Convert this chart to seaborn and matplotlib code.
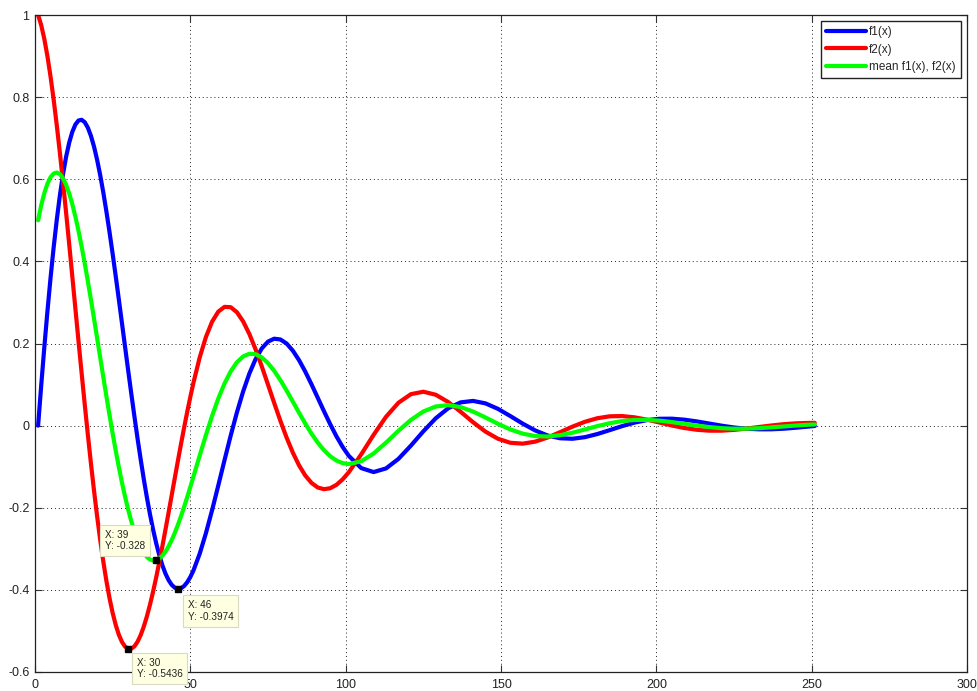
import matplotlib
matplotlib.use("Agg")
import matplotlib.pyplot as plt
import pandas as pd
import seaborn as sns

# Sample positions (x) and the three curves
x = [1, 2, 3, 4, 5, 6, 7, 8, 9, 10, 11, 12, 13, 14, 15, 16, 17, 18, 19, 20,
     21, 22, 23, 24, 25, 26, 27, 28, 29, 30, 31, 32, 33, 34, 35, 36, 37, 38,
     39, 40, 41, 42, 43, 44, 45, 46, 47, 48, 49, 50, 51,
     53, 55, 57, 59, 61, 63, 65, 67, 69, 71, 73, 75, 77, 79,
     81, 83, 85, 87, 89, 91, 93, 95, 97, 99, 101,
     105, 109, 113, 117, 121, 125, 129, 133, 137, 141, 145, 149, 153,
     157, 161, 165, 169, 173, 177, 181, 185, 189, 193, 197, 201, 205,
     209, 213, 217, 221, 225, 229, 233, 237, 241, 245, 249, 251]

f1 = [0.0, 0.0979, 0.1909, 0.2783, 0.3595, 0.4338, 0.5008, 0.5601, 0.6113, 0.6543,
      0.6889, 0.7152, 0.7332, 0.7430, 0.7448, 0.7390, 0.7258, 0.7058, 0.6794, 0.6471,
      0.6095, 0.5672, 0.5207, 0.4708, 0.4180, 0.3630, 0.3065, 0.2491, 0.1914, 0.1340,
      0.0775, 0.0224, -0.0308, -0.0815, -0.1295, -0.1742, -0.2154, -0.2528, -0.2862,
      -0.3153, -0.3401, -0.3604, -0.3763, -0.3877, -0.3947, -0.3974, -0.3960, -0.3906,
      -0.3814, -0.3687, -0.3528,
      -0.3123, -0.2624, -0.2060, -0.1457, -0.0842, -0.0240,
      0.0324, 0.0832, 0.1268, 0.1620, 0.1880, 0.2046, 0.2117, 0.2098,
      0.1998, 0.1825, 0.1593, 0.1315, 0.1006, 0.0681, 0.0354, 0.0038, -0.0256, -0.0516, -0.0736,
      -0.1034, -0.1131, -0.1042, -0.0809, -0.0487, -0.0139, 0.0179, 0.0423, 0.0566,
      0.0602, 0.0542, 0.0409, 0.0233,
      0.0048, -0.0117, -0.0240, -0.0308, -0.0320, -0.0281, -0.0205, -0.0110, -0.0012,
      0.0074, 0.0135, 0.0167, 0.0169,
      0.0145, 0.0103, 0.0051, -0.0001, -0.0045, -0.0076, -0.0090, -0.0089, -0.0075,
      -0.0051, -0.0023, -0.0009]

f2 = [1.0, 0.9753, 0.9416, 0.8997, 0.8503, 0.7941, 0.7320, 0.6649, 0.5937, 0.5192,
      0.4424, 0.3640, 0.2850, 0.2063, 0.1285, 0.0524, -0.0212, -0.0917, -0.1585, -0.2211,
      -0.2790, -0.3317, -0.3790, -0.4206, -0.4563, -0.4859, -0.5094, -0.5269, -0.5382, -0.5436,
      -0.5433, -0.5375, -0.5264, -0.5104, -0.4898, -0.4650, -0.4365, -0.4046, -0.3699,
      -0.3328, -0.2937, -0.2532, -0.2117, -0.1696, -0.1275, -0.0857, -0.0447, -0.0048,
      0.0335, 0.0700, 0.1044,
      0.1656, 0.2155, 0.2531, 0.2776, 0.2892, 0.2884,
      0.2761, 0.2538, 0.2231, 0.1859, 0.1441, 0.0998, 0.0550, 0.0114,
      -0.0294, -0.0658, -0.0968, -0.1215, -0.1395, -0.1506, -0.1548, -0.1525, -0.1444, -0.1311, -0.1136,
      -0.0701, -0.0224, 0.0216, 0.0558, 0.0766, 0.0826, 0.0752, 0.0575, 0.0337,
      0.0083, -0.0146, -0.0319, -0.0418,
      -0.0439, -0.0390, -0.0290, -0.0160, -0.0025, 0.0093, 0.0180, 0.0227, 0.0233,
      0.0202, 0.0145, 0.0075, 0.0003,
      -0.0058, -0.0101, -0.0123, -0.0123, -0.0104, -0.0072, -0.0034, 0.0003, 0.0035,
      0.0056, 0.0066, 0.0067]

f_mean = [0.5, 0.5366, 0.5663, 0.5890, 0.6049, 0.6139, 0.6164, 0.6125, 0.6025, 0.5868,
          0.5657, 0.5396, 0.5091, 0.4746, 0.4366, 0.3957, 0.3523, 0.3071, 0.2605, 0.2130,
          0.1653, 0.1177, 0.0708, 0.0251, -0.0192, -0.0615, -0.1015, -0.1389, -0.1734, -0.2048,
          -0.2329, -0.2576, -0.2786, -0.2960, -0.3096, -0.3196, -0.3260, -0.3287, -0.3280,
          -0.3240, -0.3169, -0.3068, -0.2940, -0.2787, -0.2611, -0.2416, -0.2204, -0.1977,
          -0.1740, -0.1494, -0.1242,
          -0.0733, -0.0235, 0.0235, 0.0660, 0.1025, 0.1322,
          0.1543, 0.1685, 0.1750, 0.1740, 0.1661, 0.1522, 0.1333, 0.1106,
          0.0852, 0.0584, 0.0313, 0.0050, -0.0195, -0.0412, -0.0597, -0.0744, -0.0850, -0.0913, -0.0936,
          -0.0868, -0.0678, -0.0413, -0.0125, 0.0139, 0.0344, 0.0466, 0.0499, 0.0452,
          0.0343, 0.0198, 0.0045, -0.0093,
          -0.0196, -0.0254, -0.0265, -0.0234, -0.0173, -0.0094, -0.0012, 0.0059, 0.0111,
          0.0138, 0.0140, 0.0121, 0.0086,
          0.0044, 0.0001, -0.0036, -0.0062, -0.0075, -0.0074, -0.0062, -0.0043, -0.0020,
          0.0003, 0.0022, 0.0029]

series_labels = ["f1(x)", "f2(x)", "mean f1(x), f2(x)"]

# Data cursors: mean, f1 and f2 minima
tip_x = [39, 46, 30]
tip_y = [-0.328, -0.3974, -0.5436]

x_ticks = [0, 50, 100, 150, 200, 250, 300]
y_ticks = [-0.6, -0.4, -0.2, 0, 0.2, 0.4, 0.6, 0.8, 1]
y_tick_labels = ["-0.6", "-0.4", "-0.2", "0", "0.2", "0.4", "0.6", "0.8", "1"]

sns.set_style("white")
plt.rcParams["font.family"] = ["Liberation Sans", "DejaVu Sans"]

fig = plt.figure(figsize=(9.77, 6.91), dpi=100)
fig.patch.set_facecolor("white")
ax = fig.add_axes([35 / 977, 1 - 672 / 691, 932 / 977, 657 / 691])

df = pd.DataFrame({
    "x": x * 3,
    "y": f1 + f2 + f_mean,
    "series": [lab for lab in series_labels for _ in x],
})
sns.lineplot(data=df, x="x", y="y", hue="series", hue_order=series_labels,
             palette=["#0000ff", "#ff0000", "#00ff00"], linewidth=3.0,
             errorbar=None, legend=False, ax=ax)

ax.set_xlim(0, 300)
ax.set_ylim(-0.6, 1)
ax.set_xticks(x_ticks)
ax.set_xticklabels([str(v) for v in x_ticks])
ax.set_yticks(y_ticks)
ax.set_yticklabels(y_tick_labels)
ax.set_xlabel("")
ax.set_ylabel("")

ax.grid(True, linestyle=(0, (1, 3)), color="#222222", linewidth=0.7)
ax.tick_params(direction="in", bottom=True, left=True, top=True, right=True,
               length=5, width=0.8, color="#333333", labelsize=9,
               labelcolor="#222222")
ax.tick_params(axis="x", pad=5)
ax.tick_params(axis="y", pad=4)
for sp in ax.spines.values():
    sp.set_visible(True)
    sp.set_color("#222222")
    sp.set_linewidth(0.9)

leg = ax.legend(ax.lines[:3], series_labels, loc="upper right", fontsize=8.5,
                frameon=True, fancybox=False, edgecolor="#222222", framealpha=1,
                handlelength=3.4, handletextpad=0.25, labelspacing=0.45,
                borderpad=0.45, borderaxespad=0.5)
leg.get_frame().set_linewidth(1.0)
for h in leg.get_lines():
    h.set_linewidth(3.0)

# data cursor markers and their labels
ax.plot(tip_x, tip_y, "s", color="black", markersize=5, zorder=8)
tip_layout = [(-8, 6.5, "right", "bottom"), (7, -8, "left", "top"), (6, -6.5, "left", "top")]
for tx, ty, (dx, dy, ha, va) in zip(tip_x, tip_y, tip_layout):
    ax.annotate(f"X: {tx}\nY: {ty}", xy=(tx, ty), xytext=(dx, dy),
                textcoords="offset points", ha=ha, va=va, multialignment="left",
                fontsize=7.2, color="#222222", annotation_clip=False, zorder=10,
                bbox=dict(boxstyle="square,pad=0.5", facecolor="#ffffe1",
                          edgecolor="#d9d9c4", linewidth=0.8))

fig.savefig("out.png", dpi=100, facecolor="white")
